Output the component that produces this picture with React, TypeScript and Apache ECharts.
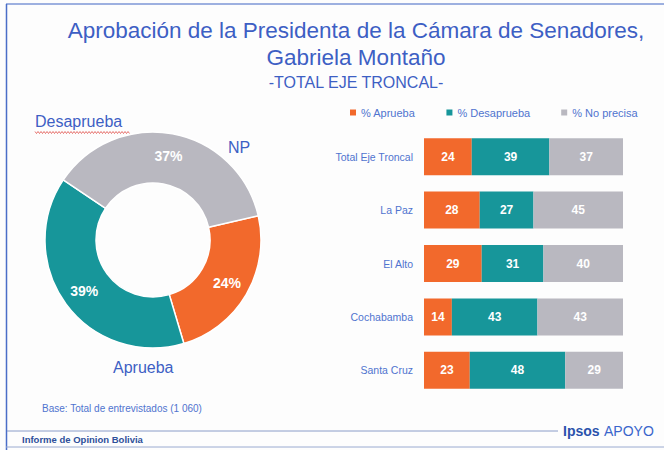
import React, { useEffect, useRef } from "react";
import * as echarts from "echarts";

const pieNames = ["Aprueba", "Desaprueba", "NP"];
const pieValues = [24, 39, 37];
const pieColors = ["#f2692c", "#17969a", "#b9b8c0"];

const regions = ["Total Eje Troncal", "La Paz", "El Alto", "Cochabamba", "Santa Cruz"];
const seriesNames = ["% Aprueba", "% Desaprueba", "% No precisa"];
const aprueba = [24, 28, 29, 14, 23];
const desaprueba = [39, 27, 31, 43, 48];
const noPrecisa = [37, 45, 40, 43, 29];

const titleLines = ["Aprobación de la Presidenta de la Cámara de Senadores,", "Gabriela Montaño"];
const subTitle = "-TOTAL EJE TRONCAL-";

const BLUE = "#3d5fc4";
const LIGHT_BLUE = "#5074cf";
const FONT = "Liberation Sans, Arial, sans-serif";

export default function App() {
  const ref = useRef<HTMLDivElement>(null);
  useEffect(() => {
    if (!ref.current) return;
    const chart = echarts.init(ref.current, null, { renderer: "svg" });
    const barData = [aprueba, desaprueba, noPrecisa];
    const squiggle: number[][] = [];
    for (let x = 35; x <= 130; x += 1.5) squiggle.push([x, Math.round((x - 35) / 1.5) % 2 === 0 ? 131.5 : 133.5]);
    chart.setOption({
      animation: false,
      backgroundColor: "#fdfdfd",
      textStyle: { fontFamily: FONT },
      title: [
        {
          text: titleLines.join("\n"),
          left: 351,
          textAlign: "center",
          top: 12,
          textStyle: { fontSize: 22.5, fontWeight: "normal", color: BLUE, lineHeight: 27, fontFamily: FONT },
        },
        {
          text: subTitle,
          left: 351,
          textAlign: "center",
          top: 69,
          textStyle: { fontSize: 16, fontWeight: "normal", color: BLUE, fontFamily: FONT },
        },
      ],
      legend: {
        data: seriesNames,
        left: 345,
        top: 102,
        itemWidth: 6,
        itemHeight: 6,
        itemGap: 31,
        icon: "rect",
        textStyle: { fontSize: 11, color: LIGHT_BLUE },
      },
      grid: { left: 424, right: 41, top: 130, bottom: 53, containLabel: false },
      xAxis: { type: "value", min: 0, max: 100, show: false },
      yAxis: {
        type: "category",
        data: regions,
        inverse: true,
        axisLine: { show: false },
        axisTick: { show: false },
        axisLabel: { fontSize: 10.5, color: LIGHT_BLUE, margin: 11 },
      },
      series: [
        ...seriesNames.map((name, i) => ({
          type: "bar",
          name,
          stack: "total",
          barWidth: 37,
          data: barData[i],
          itemStyle: { color: pieColors[i] },
          label: { show: true, position: "inside", color: "#ffffff", fontWeight: "bold", fontSize: 12 },
        })),
        {
          type: "pie",
          center: [153, 240],
          radius: [57, 108],
          startAngle: 13,
          clockwise: true,
          data: pieNames.map((n, i) => ({ name: n, value: pieValues[i], itemStyle: { color: pieColors[i] } })),
          itemStyle: { borderColor: "#ffffff", borderWidth: 1.5 },
          label: {
            show: true,
            position: "inside",
            formatter: "{c}%",
            color: "#ffffff",
            fontWeight: "bold",
            fontSize: 14,
          },
          labelLine: { show: false },
        },
      ],
      graphic: [
        { type: "line", shape: { x1: 6, y1: 4, x2: 664, y2: 4 }, style: { stroke: "#7d96d6", lineWidth: 1.5 } },
        { type: "line", shape: { x1: 6.5, y1: 4, x2: 6.5, y2: 450 }, style: { stroke: "#4a6ec8", lineWidth: 1.5 } },
        { type: "line", shape: { x1: 6, y1: 447, x2: 664, y2: 447 }, style: { stroke: "#9aaad0", lineWidth: 1 } },
        { type: "line", shape: { x1: 7, y1: 431, x2: 558, y2: 431 }, style: { stroke: "#8a9cc8", lineWidth: 1 } },
        {
          type: "text",
          x: 35,
          y: 129,
          style: { text: "Desaprueba", fontSize: 16, fill: BLUE, textVerticalAlign: "bottom", fontFamily: FONT },
        },
        { type: "polyline", shape: { points: squiggle }, style: { stroke: "#e0504a", lineWidth: 0.8, fill: null } },
        {
          type: "text",
          x: 228,
          y: 147,
          style: { text: "NP", fontSize: 16, fill: BLUE, textVerticalAlign: "middle", fontFamily: FONT },
        },
        {
          type: "text",
          x: 113,
          y: 367,
          style: { text: "Aprueba", fontSize: 16, fill: BLUE, textVerticalAlign: "middle", fontFamily: FONT },
        },
        {
          type: "text",
          x: 42,
          y: 408,
          style: { text: "Base: Total de entrevistados (1 060)", fontSize: 10, fill: LIGHT_BLUE, textVerticalAlign: "middle", fontFamily: FONT },
        },
        {
          type: "text",
          x: 22,
          y: 439,
          style: { text: "Informe de Opinion Bolivia", fontSize: 9.5, fontWeight: "bold", fill: "#2d4f9a", textVerticalAlign: "middle", fontFamily: FONT },
        },
        {
          type: "text",
          x: 563,
          y: 431,
          style: { text: "Ipsos", fontSize: 14, fontWeight: "bold", fill: "#2a52ac", textVerticalAlign: "middle", fontFamily: FONT },
        },
        {
          type: "text",
          x: 604,
          y: 431,
          style: { text: "APOYO", fontSize: 14, fill: "#3a66cc", textVerticalAlign: "middle", fontFamily: FONT },
        },
      ],
    });
    return () => chart.dispose();
  }, []);
  return <div ref={ref} style={{ position: "fixed", left: 0, top: 0, width: 664, height: 450 }} />;
}
